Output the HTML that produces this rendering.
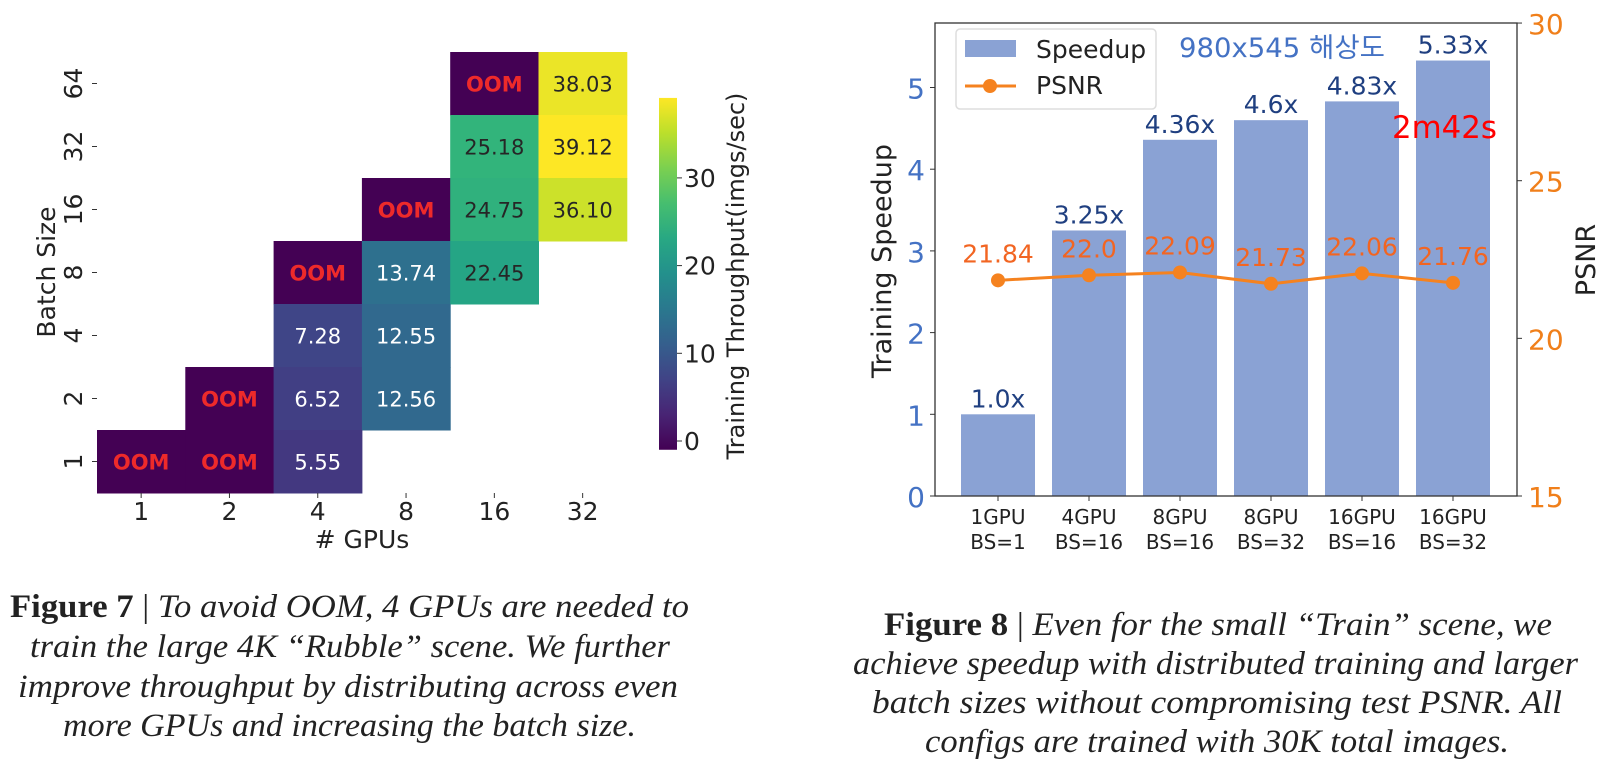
<!DOCTYPE html>
<html><head><meta charset="utf-8"><style>
html,body{margin:0;padding:0;background:#fff;}
svg{display:block;}
.t{font-family:"DejaVu Sans","Liberation Sans","Noto Sans CJK KR",sans-serif;}
.cap{font-family:"Liberation Serif",serif;font-size:33px;fill:#222;}
</style></head><body>
<svg id="root" width="1604" height="774" viewBox="0 0 1604 774">
<g id="heat"></g>
<g id="bars"></g>
<g>
<text class="cap" x="10" y="617" textLength="679" lengthAdjust="spacingAndGlyphs"><tspan font-weight="bold" font-style="normal">Figure 7</tspan> | <tspan font-style="italic">To avoid OOM, 4 GPUs are needed to</tspan></text>
<text class="cap" font-style="italic" x="30" y="657" textLength="640" lengthAdjust="spacingAndGlyphs">train the large 4K “Rubble” scene. We further</text>
<text class="cap" font-style="italic" x="18" y="697" textLength="660" lengthAdjust="spacingAndGlyphs">improve throughput by distributing across even</text>
<text class="cap" font-style="italic" x="63" y="736" textLength="573" lengthAdjust="spacingAndGlyphs">more GPUs and increasing the batch size.</text>
</g>
<g>
<text class="cap" x="884" y="635" textLength="668" lengthAdjust="spacingAndGlyphs"><tspan font-weight="bold" font-style="normal">Figure 8</tspan> | <tspan font-style="italic">Even for the small “Train” scene, we</tspan></text>
<text class="cap" font-style="italic" x="853" y="674" textLength="725" lengthAdjust="spacingAndGlyphs">achieve speedup with distributed training and larger</text>
<text class="cap" font-style="italic" x="872" y="713" textLength="690" lengthAdjust="spacingAndGlyphs">batch sizes without compromising test PSNR. All</text>
<text class="cap" font-style="italic" x="925" y="752" textLength="584" lengthAdjust="spacingAndGlyphs">configs are trained with 30K total images.</text>
</g>
</svg>
<script>
const NS="http://www.w3.org/2000/svg";
function mk(p,tag,attrs,txt){const e=document.createElementNS(NS,tag);for(const k in attrs)e.setAttribute(k,attrs[k]);if(txt!==undefined)e.textContent=txt;p.appendChild(e);return e;}

// ===== Heatmap data =====
const gpuLabels=["1","2","4","8","16","32"];
const batchLabels=["64","32","16","8","4","2","1"];
// null = empty, "OOM" = out of memory
const heatValues=[
 [null,null,null,null,"OOM",38.03],
 [null,null,null,null,25.18,39.12],
 [null,null,null,"OOM",24.75,36.10],
 [null,null,"OOM",13.74,22.45,null],
 [null,null,7.28,12.55,null,null],
 [null,"OOM",6.52,12.56,null,null],
 ["OOM","OOM",5.55,null,null,null]
];
const cbTicks=[0,10,20,30];
const cbMin=-1, cbMax=39.12;

const VIR=[[68,1,84],[72,40,120],[62,74,137],[49,104,142],[38,130,142],[31,158,137],[53,183,121],[109,205,89],[180,222,44],[253,231,37]];
function viridis(t){t=Math.max(0,Math.min(1,t));const f=t*(VIR.length-1),i=Math.min(VIR.length-2,Math.floor(f)),r=f-i;const a=VIR[i],b=VIR[i+1];return `rgb(${Math.round(a[0]+(b[0]-a[0])*r)},${Math.round(a[1]+(b[1]-a[1])*r)},${Math.round(a[2]+(b[2]-a[2])*r)})`;}

const H=document.getElementById('heat');
const hx0=97,hy0=52,cw=88.3,ch=63;
const cbY=v=>441-v*8.77;
const colX=i=>hx0+i*cw, rowY=j=>hy0+j*ch;
heatValues.forEach((row,j)=>row.forEach((v,i)=>{
  if(v===null)return;
  const val=v==="OOM"?cbMin:v;
  const t=(val-cbMin)/(cbMax-cbMin);
  const r=mk(H,'rect',{x:colX(i),y:rowY(j),width:cw+0.5,height:ch+0.5,fill:viridis(t)});
  
  
  const isOOM=v==="OOM";
  const tx=mk(H,'text',{x:colX(i)+cw/2,y:rowY(j)+ch/2+8,'text-anchor':'middle',class:'t','font-size':21,'font-weight':isOOM?'bold':'normal',fill:isOOM?'#ee2a2a':(t>0.5?'#262626':'#ffffff')},isOOM?"OOM":v.toFixed(2));
  
  
}));
const hBottom=rowY(batchLabels.length);
gpuLabels.forEach((l,i)=>{
  mk(H,'line',{x1:colX(i)+cw/2,x2:colX(i)+cw/2,y1:hBottom,y2:hBottom+5,stroke:'#333'});
  const e=mk(H,'text',{x:colX(i)+cw/2,y:520,'text-anchor':'middle',class:'t','font-size':25,fill:'#222'},l);
  
  
});
batchLabels.forEach((l,j)=>{
  const cy=rowY(j)+ch/2;
  mk(H,'line',{x1:92,x2:97,y1:cy,y2:cy,stroke:'#333'});
  const e=mk(H,'text',{x:0,y:0,'text-anchor':'middle',class:'t','font-size':25,fill:'#222',transform:`translate(82,${cy}) rotate(-90)`},l);
  
  
});
let e=mk(H,'text',{x:362,y:548,'text-anchor':'middle',class:'t','font-size':25,fill:'#222'},"# GPUs");


e=mk(H,'text',{x:0,y:0,'text-anchor':'middle',class:'t','font-size':25,fill:'#222',transform:'translate(55,272) rotate(-90)'},"Batch Size");


// colorbar
const defs=mk(H,'defs',{});
const lg=mk(defs,'linearGradient',{id:'cbg',x1:0,y1:1,x2:0,y2:0});
for(let k=0;k<=10;k++)mk(lg,'stop',{offset:k/10,'stop-color':viridis(k/10)});
e=mk(H,'rect',{x:659,y:cbY(cbMax),width:18,height:cbY(cbMin)-cbY(cbMax),fill:'url(#cbg)'});


cbTicks.forEach(v=>{
  mk(H,'line',{x1:677,x2:682,y1:cbY(v),y2:cbY(v),stroke:'#333'});
  const t=mk(H,'text',{x:684,y:cbY(v)+9,class:'t','font-size':25,fill:'#222'},v);
  
  
});
e=mk(H,'text',{x:0,y:0,'text-anchor':'middle',class:'t','font-size':24,fill:'#222',transform:'translate(744,276) rotate(-90)'},"Training Throughput(imgs/sec)");



// ===== Bar chart data =====
const configs=[["1GPU","BS=1"],["4GPU","BS=16"],["8GPU","BS=16"],["8GPU","BS=32"],["16GPU","BS=16"],["16GPU","BS=32"]];
const speedups=[1.0,3.25,4.36,4.6,4.83,5.33];
const speedupLabels=["1.0x","3.25x","4.36x","4.6x","4.83x","5.33x"];
const psnr=[21.84,22.0,22.09,21.73,22.06,21.76];
const psnrLabels=["21.84","22.0","22.09","21.73","22.06","21.76"];
const speedTicks=[0,1,2,3,4,5];
const psnrTicks=[15,20,25,30];

const B=document.getElementById('bars');
const ax0=935,ax1=1517,ay0=23,ay1=496;
const xs=i=>998+i*91;
const ys=v=>ay1-v*81.7;
const yp=v=>ay1-(v-15)*31.53;
const bw=74;
speedups.forEach((v,i)=>{
  const r=mk(B,'rect',{x:xs(i)-bw/2,y:ys(v),width:bw,height:ys(0)-ys(v),fill:'#8aa2d4'});
  
  
  const t=mk(B,'text',{x:xs(i),y:ys(v)-7,'text-anchor':'middle',class:'t','font-size':25,fill:'#1f3f80'},speedupLabels[i]);
  
  
});
mk(B,'rect',{x:ax0,y:ay0,width:ax1-ax0,height:ay1-ay0,fill:'none',stroke:'#333','stroke-width':1.3});
const pts=psnr.map((v,i)=>xs(i)+','+yp(v)).join(' ');
e=mk(B,'polyline',{points:pts,fill:'none',stroke:'#f5821f','stroke-width':3});


psnr.forEach((v,i)=>{
  const c=mk(B,'circle',{cx:xs(i),cy:yp(v),r:7,fill:'#f5821f'});
  
  
  const t=mk(B,'text',{x:xs(i),y:yp(v)-18,'text-anchor':'middle',class:'t','font-size':25,fill:'#f26522'},psnrLabels[i]);
  
  
});
speedTicks.forEach(v=>{
  mk(B,'line',{x1:ax0-5,x2:ax0,y1:ys(v),y2:ys(v),stroke:'#333'});
  const t=mk(B,'text',{x:ax0-10,y:ys(v)+11,'text-anchor':'end',class:'t','font-size':28,fill:'#4472c4'},v);
  
  
});
psnrTicks.forEach(v=>{
  mk(B,'line',{x1:ax1,x2:ax1+5,y1:yp(v),y2:yp(v),stroke:'#333'});
  const t=mk(B,'text',{x:ax1+11,y:yp(v)+11,class:'t','font-size':28,fill:'#f07f1a'},v);
  
  
});
configs.forEach((c,i)=>{
  mk(B,'line',{x1:xs(i),x2:xs(i),y1:ay1,y2:ay1+5,stroke:'#333'});
  const t=mk(B,'text',{x:xs(i),y:524,'text-anchor':'middle',class:'t','font-size':20,fill:'#222'},c[0]);
  
  
  const t2=mk(B,'text',{x:xs(i),y:549,'text-anchor':'middle',class:'t','font-size':20,fill:'#222'},c[1]);
  
  
});
e=mk(B,'text',{x:0,y:0,'text-anchor':'middle',class:'t','font-size':27,fill:'#222',transform:'translate(891,261) rotate(-90)'},"Training Speedup");


e=mk(B,'text',{x:0,y:0,'text-anchor':'middle',class:'t','font-size':27,fill:'#222',transform:'translate(1595,260) rotate(-90)'},"PSNR");


// legend
const L=mk(B,'g',{});


mk(L,'rect',{x:956,y:29,width:200,height:80,rx:4,fill:'#fff','fill-opacity':0.85,stroke:'#ddd','stroke-width':1.5});
mk(L,'rect',{x:965,y:40,width:51,height:17,fill:'#8aa2d4'});
e=mk(L,'text',{x:1036,y:58,class:'t','font-size':25,fill:'#222'},"Speedup");


mk(L,'line',{x1:965,x2:1016,y1:86,y2:86,stroke:'#f5821f','stroke-width':3});
mk(L,'circle',{cx:990,cy:86,r:7,fill:'#f5821f'});
e=mk(L,'text',{x:1036,y:94,class:'t','font-size':25,fill:'#222'},"PSNR");


e=mk(B,'text',{x:1179,y:57,class:'t','font-size':27,fill:'#4472c4',textLength:206,lengthAdjust:'spacingAndGlyphs'},"980x545 해상도");


e=mk(B,'text',{x:1392,y:138,class:'t','font-size':31,fill:'#ff0000',textLength:105,lengthAdjust:'spacingAndGlyphs'},"2m42s");


</script>
</body></html>
